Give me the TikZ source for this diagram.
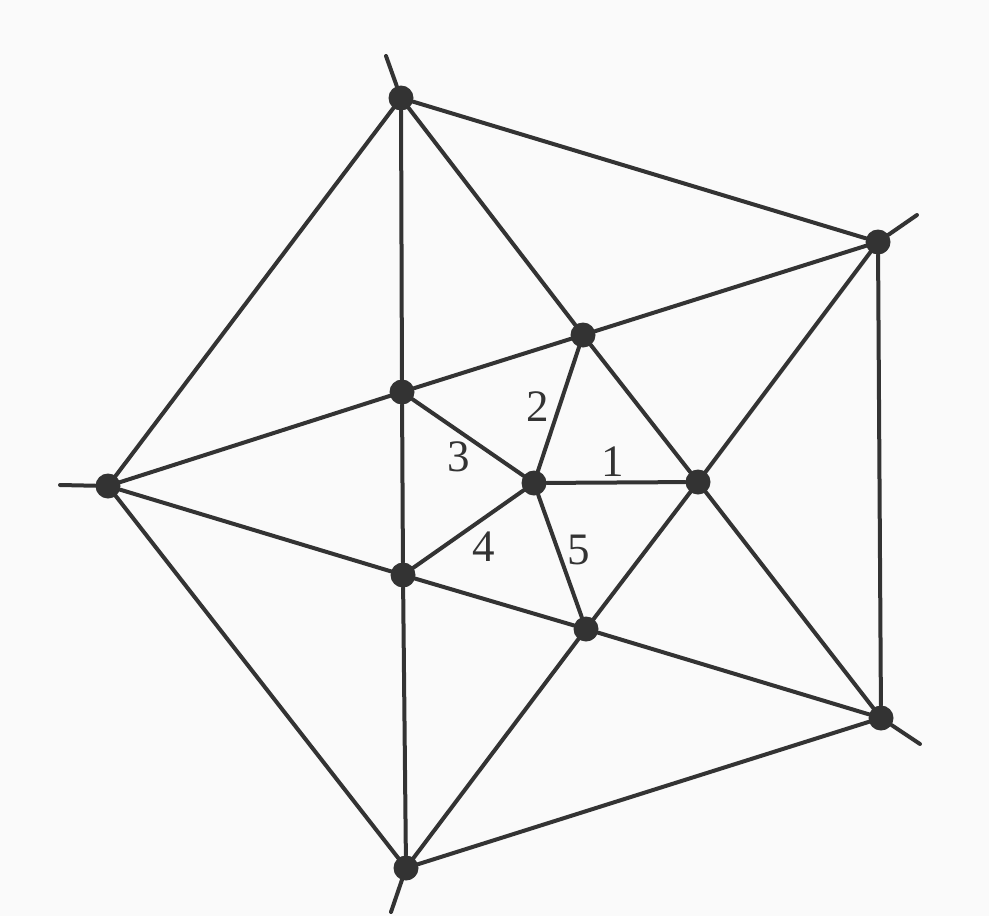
\documentclass[tikz,border=0pt]{standalone}
\usepackage{fontspec}
\setmainfont{Liberation Serif}
\definecolor{ink}{HTML}{333333}
\definecolor{paper}{HTML}{FAFAFA}
\begin{document}
\begin{tikzpicture}[x=1pt,y=-1pt,
  dot/.style={circle,fill=ink,inner sep=0pt,minimum size=25pt},
  edge/.style={draw=ink,line width=4pt,line cap=round},
  lbl/.style={text=ink,font=\fontsize{45}{45}\selectfont,inner sep=0pt}]
\fill[paper] (0,0) rectangle (989,916);
\useasboundingbox (0,0) rectangle (989,916);
% outer vertices
\node[dot] (A) at (401,98) {};
\node[dot] (B) at (878,242) {};
\node[dot] (C) at (881,718) {};
\node[dot] (D) at (406,868) {};
\node[dot] (E) at (108,486) {};
% middle vertices
\node[dot] (F) at (583,335) {};
\node[dot] (G) at (402,392) {};
\node[dot] (H) at (403,575) {};
\node[dot] (I) at (586,629) {};
\node[dot] (J) at (698,482) {};
% centre
\node[dot] (K) at (534,483) {};
% ray ends
\coordinate (a) at (386,56);
\coordinate (b) at (917,215);
\coordinate (c) at (920,744);
\coordinate (d) at (391,912);
\coordinate (e) at (60,485);
% rays
\draw[edge] (A) -- (a);
\draw[edge] (B) -- (b);
\draw[edge] (C) -- (c);
\draw[edge] (D) -- (d);
\draw[edge] (E) -- (e);
% outer pentagon
\draw[edge] (A) -- (B);
\draw[edge] (B) -- (C);
\draw[edge] (C) -- (D);
\draw[edge] (D) -- (E);
\draw[edge] (E) -- (A);
% long lines through middle vertices
\draw[edge] (A) -- (G);
\draw[edge] (G) -- (H);
\draw[edge] (H) -- (D);
\draw[edge] (A) -- (F);
\draw[edge] (F) -- (J);
\draw[edge] (J) -- (C);
\draw[edge] (B) -- (F);
\draw[edge] (F) -- (G);
\draw[edge] (G) -- (E);
\draw[edge] (B) -- (J);
\draw[edge] (J) -- (I);
\draw[edge] (I) -- (D);
\draw[edge] (C) -- (I);
\draw[edge] (I) -- (H);
\draw[edge] (H) -- (E);
% spokes from centre
\draw[edge] (K) -- (J);
\draw[edge] (K) -- (F);
\draw[edge] (K) -- (G);
\draw[edge] (K) -- (H);
\draw[edge] (K) -- (I);
% labels
\node[lbl] (l1) at (613,462) {1};
\node[lbl] (l2) at (538,407) {2};
\node[lbl] (l3) at (459,457) {3};
\node[lbl] (l4) at (484,547) {4};
\node[lbl] (l5) at (579,550) {5};
\end{tikzpicture}
\end{document}
